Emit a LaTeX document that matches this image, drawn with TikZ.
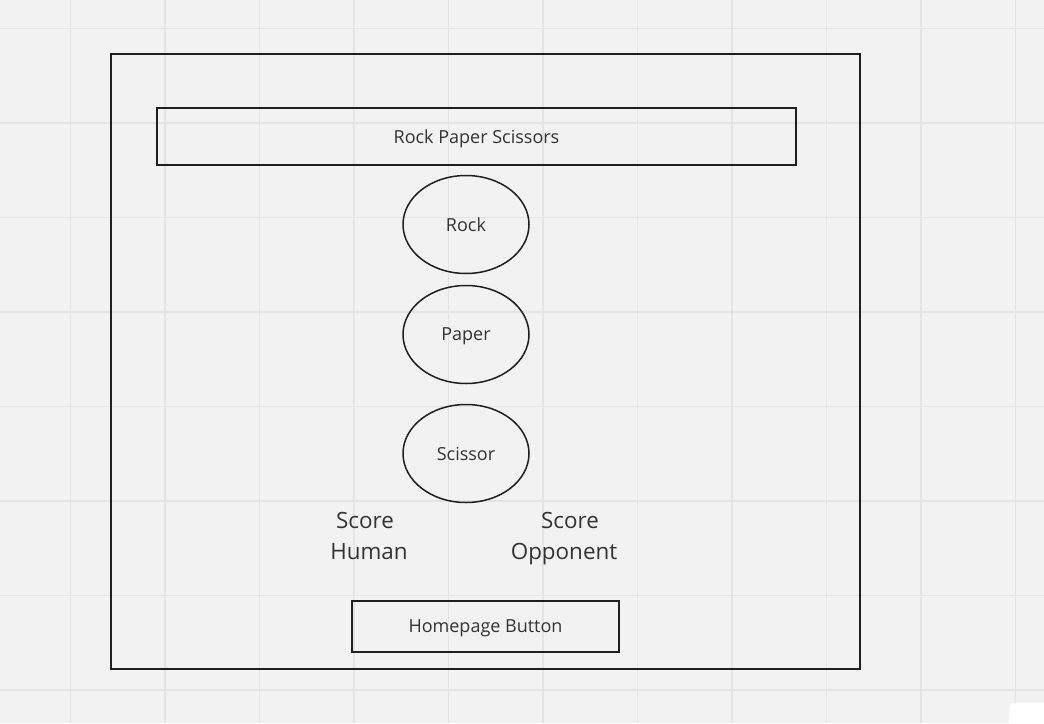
\documentclass[tikz,border=0pt]{standalone}
\usepackage{fontspec}
\setmainfont{Open Sans}
\usetikzlibrary{shapes.geometric}
\definecolor{board}{HTML}{F2F2F2}
\definecolor{gridline}{HTML}{E4E4E4}
\definecolor{ink}{HTML}{1F1F1F}
\definecolor{label}{HTML}{333333}
\tikzset{
  box/.style={draw=ink,line width=1.5pt,inner sep=0pt,text=label,text depth=0pt,font=\fontsize{18}{21}\selectfont},
  choice/.style={box,ellipse,minimum width=126pt,minimum height=98pt},
  score/.style={text=label,align=center,font=\fontsize{22.4}{31}\selectfont}
}
\begin{document}
\begin{tikzpicture}[x=1pt,y=-1pt]
  \fill[board] (0,0) rectangle (1044,723);
  \useasboundingbox (0,0) rectangle (1044,723);
  % grid
  \foreach \gx in {70.5,165,259.5,354,448.5,543,637.5,732,826.5,921,1015.5}
    \draw[gridline,line width=1.2pt] (\gx,0) -- (\gx,723);
  \foreach \gy in {28.5,123,217.5,312,406.5,501,595.5,690}
    \draw[gridline,line width=1.2pt] (0,\gy) -- (1044,\gy);
  \fill[white,rounded corners=5pt] (1009,703) rectangle (1060,740);
  % screen
  \node[box,minimum width=749pt,minimum height=615pt] (screen) at (485.5,361.5) {};
  \node[box,minimum width=639pt,minimum height=57pt] (title) at (476.5,136.5) {Rock Paper Scissors};
  \node[choice] (rock) at (466,224.5) {Rock};
  \node[choice] (paper) at (466,334.5) {Paper};
  \node[choice] (scissor) at (466,453.5) {Scissor};
  \node[score] (human) at (369,538) {\hspace*{-8pt}Score\strut\\Human\strut};
  \node[score] (opponent) at (564,538) {\hspace*{12pt}Score\strut\\Opponent\strut};
  \node[box,minimum width=267pt,minimum height=51pt] (home) at (485.5,626.5) {Homepage Button};
\end{tikzpicture}
\end{document}
